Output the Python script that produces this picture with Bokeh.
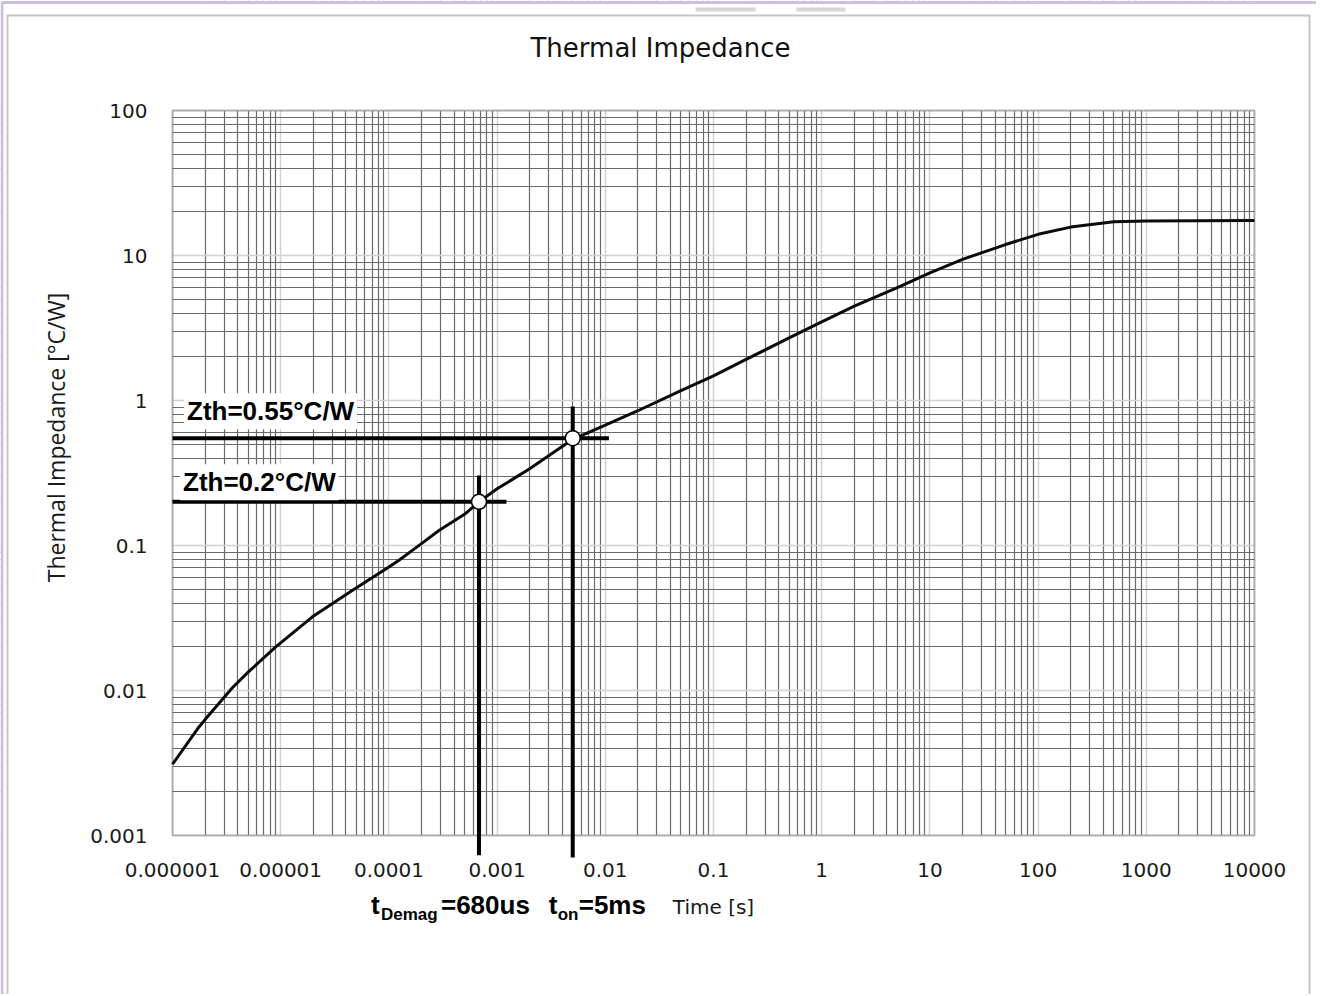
import math
from bokeh.plotting import figure
from bokeh.models import (Range1d, FixedTicker, CustomJSTickFormatter, Label,
                          BoxAnnotation, ColumnDataSource)
from bokeh.embed import file_html
from bokeh.resources import INLINE

# ---------------- data ----------------
time_s = [1e-6, 1.75e-6, 2e-6, 3.56e-6, 5e-6, 8.95e-6, 1e-5, 1.95e-5, 4.58e-5, 1e-4,
          1.23e-4, 2e-4, 2.9e-4, 5e-4, 6.8e-4, 1e-3, 2e-3, 5e-3, 1e-2, 2e-2,
          5e-2, 0.1, 0.2, 0.5, 1, 2, 5, 10, 20, 50,
          100, 200, 500, 1000, 10000]
zth = [0.0031, 0.00558, 0.0063, 0.0104, 0.0134, 0.0199, 0.0213, 0.0321, 0.049, 0.071,
       0.0788, 0.103, 0.127, 0.164, 0.20, 0.246, 0.338, 0.54, 0.676, 0.85,
       1.17, 1.48, 1.92, 2.70, 3.49, 4.47, 6.0, 7.6, 9.4, 11.9,
       14.0, 15.7, 17.1, 17.3, 17.4]

x_major = [1e-6, 1e-5, 1e-4, 1e-3, 1e-2, 1e-1, 1, 10, 100, 1000, 10000]
x_major_labels = ["0.000001", "0.00001", "0.0001", "0.001", "0.01", "0.1",
                  "1", "10", "100", "1000", "10000"]
y_major = [1e-3, 1e-2, 1e-1, 1, 10, 100]
y_major_labels = ["0.001", "0.01", "0.1", "1", "10", "100"]
x_minor = [k * 10.0 ** e for e in range(-6, 4) for k in range(2, 10)]
y_minor = [k * 10.0 ** e for e in range(-3, 2) for k in range(2, 10)]

# operating points: demagnetisation time and on-time
op_time = [6.8e-4, 5e-3]
op_zth = [0.2, 0.55]
op_zth_text = ["Zth=0.2°C/W", "Zth=0.55°C/W"]
op_sub_name = ["Demag", "on"]
op_value_text = ["=680us", "=5ms"]
hline_x_end = [1.22e-3, 1.08e-2]
vline_y_top = [0.304, 0.91]
vline_y_bottom = [7.3e-4, 7.05e-4]

# ---------------- layout (pixels) ----------------
W, H = 1316, 994
AREA_L, AREA_R, AREA_T, AREA_B = 172, 1254, 110, 835   # plot area on the canvas

lx0, lx1 = math.log10(x_major[0]), math.log10(x_major[-1])
ly0, ly1 = math.log10(y_major[0]), math.log10(y_major[-1])


def x_at(px):
    return 10 ** (lx0 + (px - AREA_L) * (lx1 - lx0) / (AREA_R - AREA_L))


def y_at(py):
    return 10 ** (ly0 + (AREA_B - py) * (ly1 - ly0) / (AREA_B - AREA_T))


p = figure(width=W, height=H,
           x_axis_type="log", y_axis_type="log",
           x_range=Range1d(x_at(0), x_at(W)),
           y_range=Range1d(y_at(H), y_at(0)),
           output_backend="svg", toolbar_location=None,
           min_border_left=0, min_border_right=0,
           min_border_top=0, min_border_bottom=0)
p.title.visible = False
p.background_fill_color = "white"
p.border_fill_color = "white"
p.outline_line_color = None

fmt_code = """
let best = -1, bd = 1e9;
for (let i = 0; i < tv.length; i++) {
  const d = Math.abs(Math.log10(tv[i]) - Math.log10(tick));
  if (d < bd) { bd = d; best = i; }
}
return bd < 1e-6 ? lab[best] : "";
"""
p.xaxis.ticker = FixedTicker(ticks=x_major, minor_ticks=x_minor)
p.yaxis.ticker = FixedTicker(ticks=y_major, minor_ticks=y_minor)
p.xaxis.formatter = CustomJSTickFormatter(args=dict(tv=x_major, lab=x_major_labels), code=fmt_code)
p.yaxis.formatter = CustomJSTickFormatter(args=dict(tv=y_major, lab=y_major_labels), code=fmt_code)
p.xaxis.fixed_location = y_major[0]
p.yaxis.fixed_location = x_major[0]
p.xaxis.bounds = (x_major[0], x_major[-1])
p.yaxis.bounds = (y_major[0], y_major[-1])

for ax in (p.xaxis, p.yaxis):
    ax.axis_line_color = None
    ax.major_tick_line_color = None
    ax.minor_tick_line_color = None
    ax.major_tick_out = 0
    ax.minor_tick_out = 0
    ax.major_tick_in = 0
    ax.minor_tick_in = 0
    ax.major_label_text_font = "DejaVu Sans"
    ax.major_label_text_font_size = "20px"
    ax.major_label_text_color = "#1a1a1a"
p.xaxis.major_label_standoff = 27
p.yaxis.major_label_standoff = 25
p.xaxis.axis_label = "Time [s]"
p.xaxis.axis_label_text_font = "DejaVu Sans"
p.xaxis.axis_label_text_font_size = "20px"
p.xaxis.axis_label_text_font_style = "normal"
p.xaxis.axis_label_text_color = "#1a1a1a"
p.xaxis.axis_label_standoff = 15

for g in (p.xgrid, p.ygrid):
    g.grid_line_color = "#d2d2d2"
    g.grid_line_width = 1.5
    g.minor_grid_line_color = "#6a6a6a"
    g.minor_grid_line_width = 1.2

# white covers so that the grid only shows inside the plot area
for kw in (dict(top=y_major[0]), dict(bottom=y_major[-1]),
           dict(right=x_major[0]), dict(left=x_major[-1])):
    p.add_layout(BoxAnnotation(fill_color="white", fill_alpha=1.0, line_color=None,
                               level="underlay", **kw))
# plot-area border
p.add_layout(BoxAnnotation(left=x_major[0], right=x_major[-1], bottom=y_major[0], top=y_major[-1],
                           fill_alpha=0, line_color="#1e1e1e", line_width=2, level="underlay"))
# outer chart border and window edge
p.add_layout(BoxAnnotation(left=x_at(7), right=x_at(1309), top=y_at(15), bottom=y_at(H + 20),
                           fill_alpha=0, line_color="#3c3c3c", line_width=2))
p.add_layout(BoxAnnotation(left=x_at(1.5), right=x_at(W + 20), top=y_at(2), bottom=y_at(H + 20),
                           fill_alpha=0, line_color="#5e2f8f", line_width=3))
# two small grey tabs at the top edge
for a, b in ((695, 755), (796, 845)):
    p.add_layout(BoxAnnotation(left=x_at(a), right=x_at(b), top=y_at(7), bottom=y_at(11),
                               fill_color="#d6d6d6", fill_alpha=1.0, line_color=None))

# curve
p.line(time_s, zth, line_color="#0b0b0b", line_width=3)

# helper lines
hsrc = ColumnDataSource(dict(x0=[x_major[0]] * len(op_zth), x1=hline_x_end, y=op_zth))
p.segment(x0="x0", y0="y", x1="x1", y1="y", source=hsrc, line_color="black", line_width=4)
vsrc = ColumnDataSource(dict(x=op_time, y0=vline_y_bottom, y1=vline_y_top))
p.segment(x0="x", y0="y0", x1="x", y1="y1", source=vsrc, line_color="black", line_width=4)

# operating point markers
p.scatter(op_time, op_zth, marker="circle", size=15, fill_color="white",
          line_color="black", line_width=1.5, level="overlay")

# Zth labels
zoff = [(7.5, 19.5), (11.5, 27)]
for txt, z, (dx, dy) in zip(op_zth_text, op_zth, zoff):
    p.add_layout(Label(x=x_major[0], y=z, x_offset=dx, y_offset=dy, text=txt,
                       text_font="Liberation Sans", text_font_size="26px",
                       text_font_style="bold", text_color="black",
                       text_baseline="middle", text_align="left",
                       background_fill_color="white", padding=3))

# time labels below the axis: t + subscript + value
sub_off = [(-108, -98, -38), (-24, -15, 6)]
for t, sub, val, (o1, o2, o3) in zip(op_time, op_sub_name, op_value_text, sub_off):
    common = dict(x=t, y=y_major[0], text_font="Liberation Sans", text_font_style="bold",
                  text_color="black", text_baseline="middle", text_align="left")
    p.add_layout(Label(text="t", x_offset=o1, y_offset=-69, text_font_size="26px", **common))
    p.add_layout(Label(text=sub, x_offset=o2, y_offset=-79, text_font_size="17px", **common))
    p.add_layout(Label(text=val, x_offset=o3, y_offset=-69, text_font_size="26px", **common))

# chart title
p.add_layout(Label(x=x_major[0], y=y_major[-1], x_offset=488, y_offset=63,
                   text="Thermal Impedance", text_font="DejaVu Sans", text_font_size="26px",
                   text_color="#111111", text_align="center", text_baseline="middle"))
# y axis title
p.add_layout(Label(x=x_major[0], y=y_major[0], x_offset=-117, y_offset=398,
                   text="Thermal Impedance [°C/W]", text_font="Open Sans", text_font_size="23px",
                   text_color="#1a1a1a", text_align="center", text_baseline="middle",
                   angle=math.pi / 2))

open("out.html", "w").write(file_html(p, INLINE))
